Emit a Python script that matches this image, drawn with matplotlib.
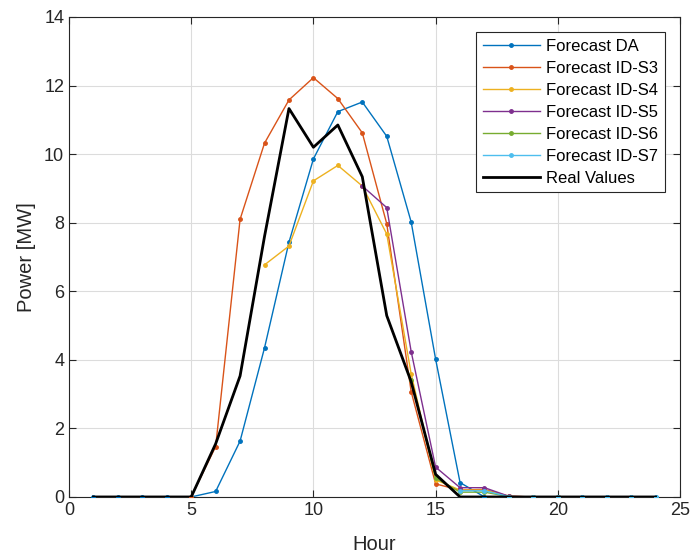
import numpy as np
import matplotlib.pyplot as plt

plt.rcParams['font.family'] = ['Liberation Sans', 'DejaVu Sans']

hours = np.arange(1, 25)
nan = np.nan

# values (MW), NaN where a session has no forecast
forecast_da = [0, 0, 0, 0, 0, 0.16, 1.63, 4.35, 7.43, 9.86, 11.24, 11.52,
               10.52, 8.02, 4.02, 0.42, 0, 0, 0, 0, 0, 0, 0, 0]
forecast_s3 = [nan, nan, nan, nan, 0, 1.47, 8.1, 10.32, 11.58, 12.23, 11.62, 10.62,
               7.97, 3.07, 0.38, 0.2, 0.22, 0.02, 0, 0, nan, nan, nan, nan]
forecast_s4 = [nan, nan, nan, nan, nan, nan, nan, 6.77, 7.32, 9.22, 9.67, 9.07,
               7.67, 3.59, 0.5, 0.2, 0.2, 0.02, 0, 0, nan, nan, nan, nan]
forecast_s5 = [nan, nan, nan, nan, nan, nan, nan, nan, nan, nan, nan, 9.07,
               8.44, 4.24, 0.87, 0.27, 0.27, 0.02, 0, 0, nan, nan, nan, nan]
forecast_s6 = [nan, nan, nan, nan, nan, nan, nan, nan, nan, nan, nan, nan,
               nan, 3.4, 0.55, 0.14, 0.14, 0.01, 0, 0, nan, nan, nan, nan]
forecast_s7 = [nan, nan, nan, nan, nan, nan, nan, nan, nan, nan, nan, nan,
               nan, nan, nan, 0.18, 0.18, 0.01, 0, 0, 0, 0, 0, 0]
real_values = [0, 0, 0, 0, 0, 1.55, 3.53, 7.6, 11.33, 10.2, 10.85, 9.34,
               5.29, 3.36, 0.66, 0, 0, 0, 0, 0, 0, 0, 0, 0]

series = [
    ('Forecast DA', forecast_da, '#0072BD'),
    ('Forecast ID-S3', forecast_s3, '#D95319'),
    ('Forecast ID-S4', forecast_s4, '#EDB120'),
    ('Forecast ID-S5', forecast_s5, '#7E2F8E'),
    ('Forecast ID-S6', forecast_s6, '#77AC30'),
    ('Forecast ID-S7', forecast_s7, '#4DBEEE'),
]

fig = plt.figure(figsize=(6.92, 5.59), dpi=100)
ax = fig.add_axes([0.0997, 0.111, 0.8830, 0.8586])

for name, vals, col in series:
    ax.plot(hours, vals, color=col, lw=1.0, marker='.', markersize=5, label=name, zorder=3)
ax.plot(hours, real_values, color='black', lw=2.0, label='Real Values', zorder=4)

ax.set_xlim(0, 25)
ax.set_ylim(0, 14)
ax.set_xticks(np.arange(0, 26, 5))
ax.set_yticks(np.arange(0, 15, 2))
ax.grid(True, color='#dcdcdc', lw=0.8)
ax.set_axisbelow(True)

dark = '#262626'
for s in ax.spines.values():
    s.set_color(dark)
    s.set_linewidth(0.8)
ax.tick_params(direction='in', length=5, width=0.8, colors=dark, labelsize=13,
               top=True, right=True)
ax.set_xlabel('Hour', fontsize=14.5, color=dark, labelpad=12)
ax.set_ylabel('Power [MW]', fontsize=14.5, color=dark, labelpad=6)

leg = ax.legend(loc='upper right', fontsize=12, frameon=True, fancybox=False,
                handlelength=3.4, handletextpad=0.4, borderpad=0.4,
                labelspacing=0.42, borderaxespad=0.9)
leg.get_frame().set_edgecolor(dark)
leg.get_frame().set_linewidth(0.8)
leg.get_frame().set_alpha(1)

fig.savefig('out.png', dpi=100)
